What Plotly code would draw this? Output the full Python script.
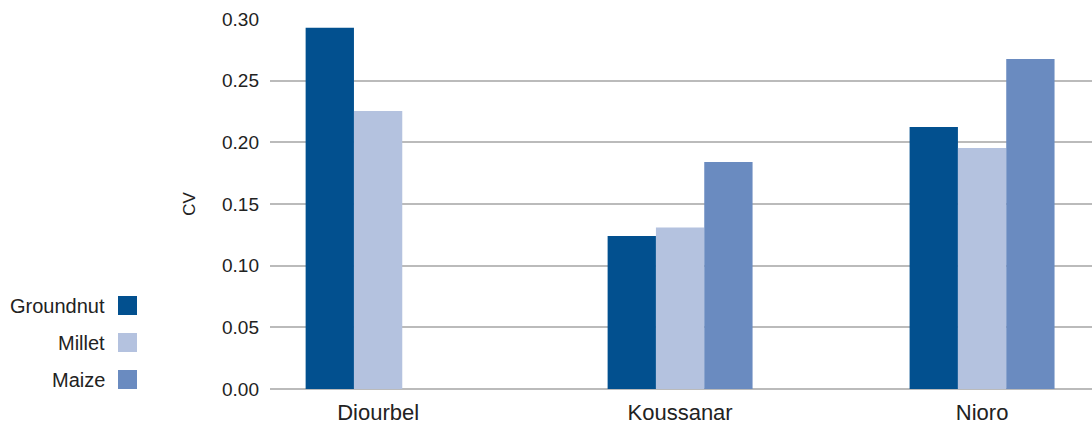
import plotly.graph_objects as go

regions = ["Diourbel", "Koussanar", "Nioro"]
series_names = ["Groundnut", "Millet", "Maize"]
groundnut = [0.293, 0.124, 0.2125]
millet = [0.2255, 0.131, 0.1955]
maize = [None, 0.184, 0.2675]
colors = ["#02508F", "#B4C2DF", "#6A8BC0"]
y_ticks = [0.00, 0.05, 0.10, 0.15, 0.20, 0.25, 0.30]

FONT = "Liberation Sans, Arial, Helvetica, sans-serif"
TXT = "#222222"

W, H = 1092, 425
PLOT_L, PLOT_R, PLOT_T, PLOT_B = 270, 1092, 19, 389
PW, PH = PLOT_R - PLOT_L, PLOT_B - PLOT_T

fig = go.Figure()
for name, vals, col in zip(series_names, [groundnut, millet, maize], colors):
    fig.add_trace(go.Bar(x=regions, y=vals, name=name,
                         marker=dict(color=col, line=dict(width=0)),
                         showlegend=False))

# manual legend on the left (label, then swatch to its right)
leg_y = [305.5, 342.5, 379.5]
for name, col, yc in zip(series_names, colors, leg_y):
    fig.add_annotation(xref="paper", yref="paper", x=(107 - PLOT_L) / PW, y=(PLOT_B - yc) / PH,
                       text=name, showarrow=False, xanchor="right", yanchor="middle",
                       font=dict(family=FONT, size=20, color=TXT))
    fig.add_shape(type="rect", xref="paper", yref="paper",
                  x0=(118 - PLOT_L) / PW, x1=(137 - PLOT_L) / PW,
                  y0=(PLOT_B - (yc + 9.5)) / PH, y1=(PLOT_B - (yc - 9.5)) / PH,
                  fillcolor=col, line=dict(width=0))

fig.update_layout(
    width=W, height=H,
    margin=dict(l=PLOT_L, r=W - PLOT_R, t=PLOT_T, b=H - PLOT_B, pad=0),
    paper_bgcolor="white", plot_bgcolor="white",
    barmode="group", bargap=0.52, bargroupgap=0,
    font=dict(family=FONT, size=19, color=TXT),
    xaxis=dict(range=[-0.358, 2.364], showgrid=False, showline=False, ticks="",
               ticklabelstandoff=8, tickfont=dict(size=22, color=TXT)),
    yaxis=dict(range=[0, 0.30], tickvals=y_ticks, tickformat=".2f",
               showgrid=True, gridcolor="#BBBBBB", gridwidth=1.5,
               zeroline=True, zerolinecolor="#BBBBBB", zerolinewidth=1.5,
               showline=False, ticks="", ticklabelstandoff=10,
               tickfont=dict(size=19, color=TXT),
               title=dict(text="CV", font=dict(size=17, color=TXT), standoff=22)),
)

fig.write_html("out.html",
               config={"displayModeBar": False},
               post_script="document.body.style.margin='0';document.body.style.overflow='hidden';")
